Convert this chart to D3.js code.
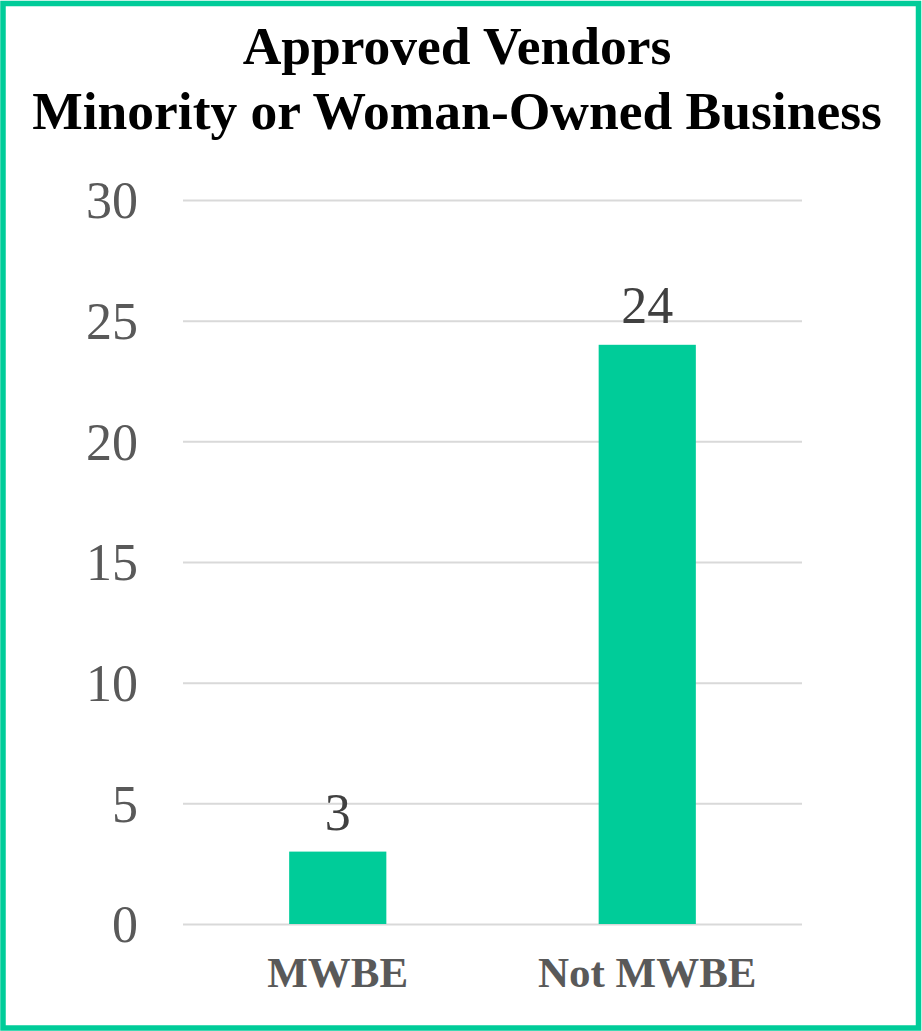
<!DOCTYPE html>
<html>
<head>
<meta charset="utf-8">
<script src="https://cdn.jsdelivr.net/npm/d3@7"></script>
<style>
html,body{margin:0;padding:0;background:#fff;}
svg{display:block;}
</style>
</head>
<body>
<svg id="chart" width="922" height="1031"></svg>
<script>
const titleLines = ["Approved Vendors", "Minority or Woman-Owned Business"];
const categories = ["MWBE", "Not MWBE"];
const values = [3, 24];
const yTicks = [0, 5, 10, 15, 20, 25, 30];

const W = 922, H = 1031;
const svg = d3.select("#chart");
const green = "#00CC99";
const font = "'Liberation Serif','Times New Roman',Times,serif";

svg.append("rect").attr("x", 0).attr("y", 0).attr("width", W).attr("height", H).attr("fill", "#fff");
svg.append("rect").attr("x", 3).attr("y", 3.5).attr("width", W - 6.5).attr("height", H - 6.5)
  .attr("fill", "none").attr("stroke", green).attr("stroke-width", 5.5);

const plot = {left: 183, right: 802, top: 200, bottom: 924};

const x = d3.scaleBand().domain(categories).range([plot.left, plot.right])
  .paddingInner(0.686).paddingOuter(0.343);
const y = d3.scaleLinear().domain([0, 30]).range([plot.bottom, plot.top]);

// title
const t = svg.append("text").attr("text-anchor", "middle").attr("font-family", font)
  .attr("font-weight", "bold").attr("font-size", 53.5).attr("fill", "#000");
titleLines.forEach((l, i) => {
  t.append("tspan").attr("x", 457).attr("y", 64 + i * 65).text(l);
});

// gridlines
const yAxis = d3.axisLeft(y).tickValues(yTicks).tickSize(-(plot.right - plot.left)).tickPadding(45);
const ga = svg.append("g").attr("transform", `translate(${plot.left},0)`).call(yAxis);
ga.select(".domain").remove();
ga.selectAll(".tick line").attr("stroke", "#D9D9D9").attr("stroke-width", 2);
ga.selectAll(".tick text").attr("font-family", font).attr("font-size", 52)
  .attr("fill", "#595959").attr("dy", "0.34em");

// bars
svg.append("g").selectAll("rect").data(values).join("rect")
  .attr("x", (d, i) => x(categories[i]))
  .attr("y", d => y(d))
  .attr("width", x.bandwidth())
  .attr("height", d => y(0) - y(d))
  .attr("fill", green);

// data labels
svg.append("g").selectAll("text").data(values).join("text")
  .attr("x", (d, i) => x(categories[i]) + x.bandwidth() / 2)
  .attr("y", d => y(d) - 22)
  .attr("text-anchor", "middle").attr("font-family", font).attr("font-size", 52)
  .attr("fill", "#404040").text(d => d);

// x axis labels
const xAxis = d3.axisBottom(x).tickSize(0).tickPadding(0);
const gx = svg.append("g").attr("transform", `translate(0,${plot.bottom})`).call(xAxis);
gx.select(".domain").remove();
gx.selectAll(".tick text").attr("font-family", font).attr("font-size", 43)
  .attr("font-weight", "bold").attr("fill", "#595959").attr("dy", 0).attr("y", 63);
</script>
</body>
</html>
